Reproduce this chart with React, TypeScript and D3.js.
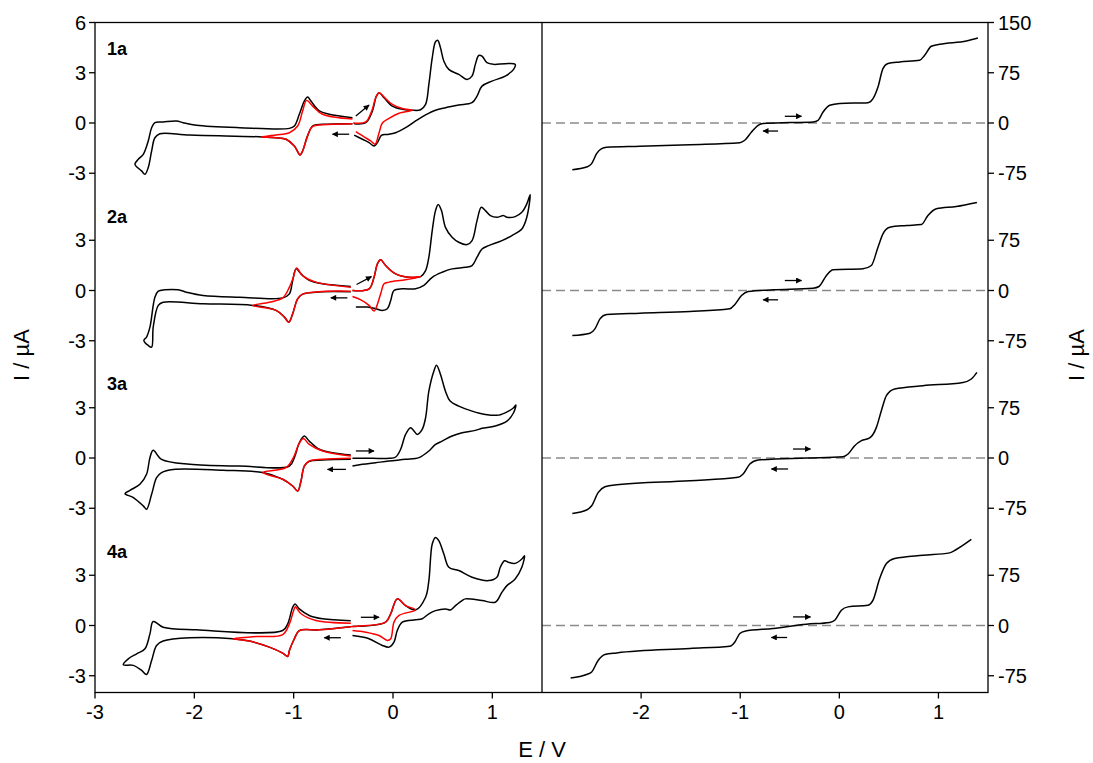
import React from 'react';
import * as d3 from 'd3';

type Pt = [number, number];

// ---------- layout (pixels) ----------
const PLOT_LEFT = 95;
const PLOT_MID = 542;
const PLOT_RIGHT = 988;
const PLOT_TOP = 22.5;
const PLOT_BOTTOM = 692.5;

// ---------- axes / ticks ----------
const eDomain: [number, number] = [-3, 1.5];
const cvDomain: [number, number] = [-34, 6];
const ssDomain: [number, number] = [-850, 150];

const panelLabels = ['1a', '2a', '3a', '4a'];
const cvOffsets = [0, -10, -20, -30];
const ssOffsets = [0, -250, -500, -750];
const cvTickValues = [[6, 3, 0, -3], [3, 0, -3], [3, 0, -3], [3, 0, -3]];
const ssTickValues = [[150, 75, 0, -75], [75, 0, -75], [75, 0, -75], [75, 0, -75]];
const leftXTicks = [-3, -2, -1, 0, 1];
const rightXTicks = [-2, -1, 0, 1];

// ---------- CV data (E / V, I / µA) ----------
const cv1aBlack1: Pt[] = [[-0.408,-0.04],[-0.709,-0.08],[-0.809,-0.18],[-0.86,-0.77],[-0.91,-1.67],[-0.936,-1.91],[-0.993,-1.37],[-1.077,-0.97],[-1.177,-0.88],[-1.31,-0.83],[-2.046,-0.72],[-2.347,-0.64],[-2.397,-0.88],[-2.43,-1.67],[-2.464,-2.66],[-2.497,-3.06],[-2.531,-2.86],[-2.598,-2.46],[-2.564,-2.17],[-2.514,-1.87],[-2.464,-1.07],[-2.43,-0.28],[-2.397,0.02],[-2.314,0.06],[-2.18,0.12],[-2.113,0.02],[-1.979,-0.14],[-1.545,-0.28],[-1.043,-0.32],[-0.993,-0.18],[-0.943,0.52],[-0.893,1.31],[-0.86,1.55],[-0.826,1.31],[-0.742,0.72],[-0.642,0.52],[-0.408,0.32]];
const cv1aBlack2: Pt[] = [[-0.391,-0.04],[-0.274,0.02],[-0.207,0.72],[-0.167,1.61],[-0.14,1.81],[-0.09,1.51],[-0.007,1.01],[0.094,0.82],[0.194,0.76],[0.278,0.79],[0.328,1.11],[0.361,2.3],[0.395,3.89],[0.428,4.85],[0.451,4.93],[0.478,4.49],[0.512,3.69],[0.562,3.2],[0.662,2.9],[0.745,2.6],[0.795,2.8],[0.829,3.5],[0.863,4.03],[0.896,3.99],[0.946,3.6],[1.013,3.5],[1.13,3.54],[1.23,3.5],[1.214,3.2],[1.13,2.8],[0.996,2.5],[0.896,2.2],[0.846,1.61],[0.795,1.21],[0.662,1.07],[0.529,0.91],[0.428,0.76],[0.328,0.48],[0.228,0.12],[0.127,-0.28],[0.027,-0.58],[-0.057,-0.68],[-0.114,-0.72],[-0.157,-1.17],[-0.19,-1.37],[-0.241,-1.17],[-0.308,-0.97],[-0.391,-0.72]];
const cv1aRed1: Pt[] = [[-0.408,0.24],[-0.709,0.52],[-0.809,1.01],[-0.87,1.35],[-0.91,0.72],[-0.96,-0.18],[-1.043,-0.58],[-1.177,-0.72],[-1.327,-0.83],[-1.177,-0.88],[-1.077,-0.97],[-0.993,-1.37],[-0.936,-1.91],[-0.91,-1.67],[-0.86,-0.77],[-0.809,-0.2],[-0.709,-0.1],[-0.408,-0.04]];
const cv1aRed2: Pt[] = [[-0.401,0.0],[-0.274,0.06],[-0.214,0.72],[-0.174,1.51],[-0.14,1.81],[-0.09,1.55],[-0.007,1.11],[0.094,0.86],[0.194,0.76],[0.06,0.58],[-0.04,0.28],[-0.107,0.0],[-0.14,-0.58],[-0.181,-1.27],[-0.224,-1.07],[-0.291,-0.83],[-0.374,-0.52]];

const cv2aBlack1: Pt[] = [[-0.425,-0.07],[-0.709,-0.07],[-0.91,-0.22],[-0.96,-0.5],[-1.01,-1.39],[-1.05,-1.89],[-1.093,-1.59],[-1.177,-1.19],[-1.411,-0.89],[-1.912,-0.79],[-2.314,-0.7],[-2.363,-0.89],[-2.414,-2.19],[-2.43,-3.38],[-2.464,-3.28],[-2.508,-2.98],[-2.481,-2.78],[-2.447,-2.19],[-2.397,-0.4],[-2.363,-0.04],[-2.297,0.04],[-2.163,0.04],[-2.08,-0.1],[-1.912,-0.3],[-1.545,-0.4],[-1.11,-0.44],[-1.043,-0.2],[-1.01,0.6],[-0.976,1.29],[-0.926,0.99],[-0.843,0.6],[-0.709,0.4],[-0.425,0.24]];
const cv2aBlack2: Pt[] = [[-0.408,0],[-0.241,0.1],[-0.191,0.79],[-0.157,1.59],[-0.124,1.83],[-0.074,1.49],[0.027,0.99],[0.16,0.79],[0.278,0.83],[0.328,1.19],[0.361,1.99],[0.395,3.58],[0.428,4.77],[0.455,5.13],[0.488,4.77],[0.528,3.77],[0.595,3.18],[0.662,2.88],[0.746,2.74],[0.796,2.98],[0.846,4.17],[0.889,4.97],[0.93,4.77],[0.98,4.47],[1.047,4.37],[1.113,4.47],[1.147,4.37],[1.23,4.41],[1.297,4.67],[1.347,5.17],[1.381,5.72],[1.347,4.37],[1.297,3.67],[1.197,3.28],[1.097,2.98],[0.963,2.68],[0.896,2.48],[0.846,1.99],[0.796,1.49],[0.729,1.39],[0.595,1.29],[0.495,1.09],[0.395,0.79],[0.311,0.3],[0.227,0.1],[0.094,0.1],[0.01,0],[-0.023,-0.6],[-0.057,-1.09],[-0.107,-1.19],[-0.174,-1.09],[-0.257,-0.99],[-0.374,-0.99]];
const cv2aRed1: Pt[] = [[-0.425,0.2],[-0.776,0.5],[-0.91,0.89],[-0.97,1.35],[-1.003,0.79],[-1.043,0.2],[-1.11,-0.44],[-1.244,-0.7],[-1.411,-0.89],[-1.177,-1.19],[-1.093,-1.59],[-1.05,-1.89],[-1.01,-1.39],[-0.96,-0.5],[-0.91,-0.22],[-0.709,-0.06],[-0.425,-0.04]];
const cv2aRed2: Pt[] = [[-0.408,0],[-0.241,0.1],[-0.191,0.79],[-0.157,1.59],[-0.124,1.83],[-0.074,1.49],[0.027,0.99],[0.16,0.79],[0.278,0.83],[0.127,0.64],[-0.04,0.5],[-0.09,0.4],[-0.124,-0.2],[-0.174,-1.09],[-0.191,-1.23],[-0.241,-0.89],[-0.324,-0.56],[-0.408,-0.36]];

const cv3aBlack1: Pt[] = [[-0.425,-0.08],[-0.709,-0.12],[-0.843,-0.2],[-0.893,-0.48],[-0.926,-1.37],[-0.96,-1.97],[-1.01,-1.67],[-1.11,-1.27],[-1.31,-0.87],[-1.712,-0.73],[-2.213,-0.68],[-2.33,-0.87],[-2.38,-1.17],[-2.43,-2.17],[-2.481,-3.06],[-2.514,-2.86],[-2.614,-2.36],[-2.698,-2.13],[-2.648,-1.93],[-2.548,-1.57],[-2.481,-0.97],[-2.447,0.02],[-2.414,0.46],[-2.33,-0.08],[-2.046,-0.38],[-1.545,-0.48],[-1.043,-0.48],[-0.993,0.02],[-0.943,0.91],[-0.893,1.31],[-0.843,1.01],[-0.742,0.52],[-0.609,0.32],[-0.425,0.18]];
const cv3aBlack2: Pt[] = [[-0.408,-0.02],[-0.207,-0.02],[-0.04,-0.02],[0.027,0.06],[0.077,0.52],[0.127,1.41],[0.177,1.81],[0.211,1.61],[0.244,1.41],[0.294,1.71],[0.328,2.4],[0.361,3.99],[0.411,5.18],[0.438,5.54],[0.478,4.99],[0.528,3.99],[0.575,3.4],[0.662,3.1],[0.796,2.8],[0.93,2.6],[1.063,2.56],[1.163,2.8],[1.214,3.0],[1.237,3.16],[1.214,2.7],[1.147,2.2],[1.03,1.91],[0.896,1.77],[0.829,1.65],[0.695,1.51],[0.595,1.31],[0.495,1.01],[0.428,0.81],[0.361,0.42],[0.261,0.02],[0.127,-0.08],[-0.04,-0.18],[-0.174,-0.28],[-0.308,-0.38],[-0.408,-0.48]];
const cv3aRed1: Pt[] = [[-0.425,0.12],[-0.709,0.42],[-0.843,0.81],[-0.903,1.17],[-0.949,0.81],[-1.003,0.02],[-1.077,-0.58],[-1.31,-0.87],[-1.11,-1.27],[-1.01,-1.67],[-0.96,-1.97],[-0.926,-1.37],[-0.893,-0.48],[-0.843,-0.18],[-0.709,-0.08],[-0.425,-0.02]];

const cv4aBlack1: Pt[] = [[-0.425,-0.08],[-0.742,-0.26],[-0.943,-0.3],[-0.993,-0.79],[-1.043,-1.49],[-1.06,-1.85],[-1.11,-1.65],[-1.244,-1.29],[-1.445,-0.93],[-1.612,-0.79],[-2.046,-0.73],[-2.314,-0.93],[-2.38,-1.19],[-2.43,-2.09],[-2.481,-2.92],[-2.531,-2.68],[-2.614,-2.38],[-2.715,-2.34],[-2.665,-1.99],[-2.581,-1.69],[-2.497,-1.39],[-2.447,-0.5],[-2.414,0.24],[-2.314,-0.1],[-1.979,-0.26],[-1.11,-0.3],[-1.06,0.1],[-1.01,1.09],[-0.986,1.29],[-0.943,0.99],[-0.843,0.6],[-0.709,0.4],[-0.425,0.28]];
const cv4aBlack2: Pt[] = [[-0.408,-0.06],[-0.074,0.2],[-0.023,0.7],[0.043,1.59],[0.127,1.19],[0.227,0.93],[0.328,1.69],[0.361,2.68],[0.395,4.87],[0.428,5.26],[0.461,5.07],[0.512,4.27],[0.562,3.48],[0.662,3.28],[0.796,2.88],[0.963,2.68],[1.046,2.88],[1.08,3.48],[1.123,3.87],[1.163,3.77],[1.23,3.71],[1.297,3.97],[1.324,4.17],[1.297,3.48],[1.23,2.78],[1.147,2.38],[1.097,1.99],[1.03,1.39],[0.896,1.49],[0.729,1.59],[0.695,1.49],[0.629,1.19],[0.579,0.93],[0.528,0.99],[0.428,0.89],[0.361,0.7],[0.294,0.4],[0.227,0.34],[0.094,0.2],[0.043,-0.3],[0.01,-0.99],[-0.04,-1.29],[-0.107,-1.19],[-0.241,-0.79],[-0.408,-0.6]];
const cv4aRed1: Pt[] = [[-0.425,0.14],[-0.776,0.3],[-0.926,0.7],[-0.96,0.95],[-0.983,1.12],[-1.0,0.9],[-1.043,0.1],[-1.11,-0.54],[-1.377,-0.66],[-1.612,-0.79],[-1.445,-0.93],[-1.244,-1.29],[-1.11,-1.65],[-1.06,-1.85],[-1.043,-1.49],[-0.993,-0.79],[-0.943,-0.3],[-0.742,-0.26],[-0.408,-0.06],[-0.074,0.2],[-0.023,0.7],[0.043,1.59],[0.127,1.19],[0.227,0.93],[0.06,0.6],[0.01,0.2],[-0.023,-0.79],[-0.057,-0.89],[-0.14,-0.6],[-0.274,-0.4],[-0.408,-0.3]];

// ---------- steady-state voltammograms (E / V, I / µA) ----------
const ss1a: Pt[] = [[-2.694,-69.6],[-2.55,-65.7],[-2.499,-60.6],[-2.449,-45.7],[-2.398,-38.2],[-2.348,-36.3],[-2.012,-34.8],[-1.508,-32.3],[-1.004,-29.3],[-0.954,-25.8],[-0.886,-13.4],[-0.819,-3.4],[-0.769,-0.9],[-0.5,0.6],[-0.265,1.6],[-0.215,4.0],[-0.164,16.4],[-0.097,26.4],[0.004,29],[0.289,30.4],[0.34,36.4],[0.39,53.7],[0.44,81.2],[0.491,88.7],[0.609,91.1],[0.81,93.6],[0.861,101.1],[0.928,114.5],[1.012,117.5],[1.281,122.4],[1.398,126.9]];
const ss2a: Pt[] = [[-2.694,-67.2],[-2.516,-63.7],[-2.466,-57.2],[-2.415,-42.3],[-2.348,-35.8],[-2.012,-33.8],[-1.508,-31.4],[-1.105,-27.4],[-1.054,-20.9],[-0.987,-7.5],[-0.92,-1.5],[-0.668,1.0],[-0.265,3.5],[-0.205,6],[-0.13,22.4],[-0.063,30.8],[0.239,32.3],[0.323,37.3],[0.39,64.7],[0.44,84.6],[0.508,94.5],[0.676,97],[0.828,98.5],[0.894,112],[0.979,122],[1.18,125.4],[1.388,131.4]];
const ss3a: Pt[] = [[-2.694,-82.7],[-2.55,-77.6],[-2.499,-71.2],[-2.432,-51.3],[-2.365,-42.8],[-2.247,-39.9],[-1.508,-33.9],[-1.021,-28.9],[-0.971,-23.9],[-0.903,-9],[-0.819,-3],[-0.332,0],[0.037,1.9],[0.088,6],[0.155,18.4],[0.223,25.8],[0.306,29.9],[0.374,45.7],[0.424,70.6],[0.475,93],[0.558,103],[0.844,107.9],[1.247,112.8],[1.332,117.9],[1.388,127.8]];
const ss4a: Pt[] = [[-2.711,-78.2],[-2.55,-73.1],[-2.499,-69.3],[-2.432,-51.8],[-2.365,-43.3],[-2.247,-40.9],[-1.508,-34.3],[-1.105,-30.9],[-1.054,-24.5],[-1.004,-11.9],[-0.954,-8.5],[-0.668,-4.5],[-0.332,1.9],[-0.097,4.5],[-0.046,7.9],[0.021,22.8],[0.088,27.8],[0.289,30.3],[0.34,37.8],[0.407,70.1],[0.475,92.5],[0.558,100],[0.844,104.9],[1.113,108.4],[1.18,113.4],[1.332,128.4]];

// ---------- scan-direction arrows ([from, to] in data units) ----------
const cvArrows: [Pt, Pt][][] = [
  [[[-0.374, 0.42], [-0.241, 1.07]], [[-0.441, -0.67], [-0.609, -0.67]]],
  [[[-0.367, 0.36], [-0.217, 0.83]], [[-0.459, -0.44], [-0.626, -0.44]]],
  [[[-0.374, 0.42], [-0.191, 0.42]], [[-0.474, -0.68], [-0.659, -0.68]]],
  [[[-0.324, 0.49], [-0.14, 0.49]], [[-0.525, -0.73], [-0.692, -0.73]]],
];
const ssArrows: [Pt, Pt][][] = [
  [[[-0.55, 10], [-0.382, 10]], [[-0.618, -12], [-0.769, -12]]],
  [[[-0.55, 14.9], [-0.382, 14.9]], [[-0.618, -13.9], [-0.769, -13.9]]],
  [[[-0.467, 13.4], [-0.291, 13.4]], [[-0.517, -16.4], [-0.685, -16.4]]],
  [[[-0.467, 12.8], [-0.291, 12.8]], [[-0.527, -17.9], [-0.685, -17.9]]],
];

const cvBlack: Pt[][][] = [[cv1aBlack1, cv1aBlack2], [cv2aBlack1, cv2aBlack2], [cv3aBlack1, cv3aBlack2], [cv4aBlack1, cv4aBlack2]];
const cvRed: Pt[][][] = [[cv1aRed1, cv1aRed2], [cv2aRed1, cv2aRed2], [cv3aRed1], [cv4aRed1]];
const ssCurves: Pt[][] = [ss1a, ss2a, ss3a, ss4a];

const FONT = "'Liberation Sans', Arial, Helvetica, sans-serif";

export default function App() {
  const xL = d3.scaleLinear().domain(eDomain).range([PLOT_LEFT, PLOT_MID]);
  const xR = d3.scaleLinear().domain(eDomain).range([PLOT_MID, PLOT_RIGHT]);
  const yL = d3.scaleLinear().domain(cvDomain).range([PLOT_BOTTOM, PLOT_TOP]);
  const yR = d3.scaleLinear().domain(ssDomain).range([PLOT_BOTTOM, PLOT_TOP]);

  const cvLine = (off: number) =>
    d3.line<Pt>().x((d) => xL(d[0])).y((d) => yL(d[1] + off)).curve(d3.curveCatmullRom.alpha(0.5));
  const ssLine = (off: number) =>
    d3.line<Pt>().x((d) => xR(d[0])).y((d) => yR(d[1] + off)).curve(d3.curveMonotoneX);

  const axisStroke = 1.3;

  return (
    <svg width={1093} height={763} style={{ display: 'block', position: 'absolute', left: 0, top: 0, background: '#fff' }}>
      <defs>
        <marker id="ah" viewBox="0 0 10 10" refX="9" refY="5" markerWidth="7" markerHeight="6"
          orient="auto" markerUnits="userSpaceOnUse">
          <path d="M0,0 L10,5 L0,10 z" fill="#000" />
        </marker>
      </defs>
      <rect x={0} y={0} width={1093} height={763} fill="#fff" />

      {/* dashed zero lines (right panel) */}
      {ssOffsets.map((off, i) => (
        <line key={'z' + i} x1={PLOT_MID} x2={PLOT_RIGHT} y1={yR(off)} y2={yR(off)}
          stroke="#8a8a8a" strokeWidth={1.5} strokeDasharray="9,5" />
      ))}

      {/* CV black curves */}
      {cvBlack.map((curves, i) =>
        curves.map((c, j) => (
          <path key={`b${i}-${j}`} d={cvLine(cvOffsets[i])(c) || ''} fill="none" stroke="#000" strokeWidth={1.5} strokeLinejoin="round" />
        ))
      )}
      {/* CV red curves */}
      {cvRed.map((curves, i) =>
        curves.map((c, j) => (
          <path key={`r${i}-${j}`} d={cvLine(cvOffsets[i])(c) || ''} fill="none" stroke="#ff0000" strokeWidth={1.5} strokeLinejoin="round" />
        ))
      )}
      {/* steady-state curves */}
      {ssCurves.map((c, i) => (
        <path key={`s${i}`} d={ssLine(ssOffsets[i])(c) || ''} fill="none" stroke="#000" strokeWidth={1.5} />
      ))}

      {/* arrows */}
      {cvArrows.map((arr, i) =>
        arr.map((a, j) => (
          <line key={`ca${i}-${j}`} x1={xL(a[0][0])} y1={yL(a[0][1] + cvOffsets[i])} x2={xL(a[1][0])} y2={yL(a[1][1] + cvOffsets[i])}
            stroke="#000" strokeWidth={1.3} markerEnd="url(#ah)" />
        ))
      )}
      {ssArrows.map((arr, i) =>
        arr.map((a, j) => (
          <line key={`sa${i}-${j}`} x1={xR(a[0][0])} y1={yR(a[0][1] + ssOffsets[i])} x2={xR(a[1][0])} y2={yR(a[1][1] + ssOffsets[i])}
            stroke="#000" strokeWidth={1.3} markerEnd="url(#ah)" />
        ))
      )}

      {/* frame */}
      <rect x={PLOT_LEFT} y={PLOT_TOP} width={PLOT_RIGHT - PLOT_LEFT} height={PLOT_BOTTOM - PLOT_TOP}
        fill="none" stroke="#000" strokeWidth={axisStroke} />
      <line x1={PLOT_MID} x2={PLOT_MID} y1={PLOT_TOP} y2={PLOT_BOTTOM} stroke="#000" strokeWidth={axisStroke} />

      {/* left y ticks */}
      {cvTickValues.map((vals, i) =>
        vals.map((v) => {
          const y = yL(v + cvOffsets[i]);
          return (
            <g key={`ly${i}-${v}`}>
              <line x1={PLOT_LEFT - 6} x2={PLOT_LEFT} y1={y} y2={y} stroke="#000" strokeWidth={axisStroke} />
              <text x={PLOT_LEFT - 9} y={y} dy="0.36em" textAnchor="end" fontFamily={FONT} fontSize={20} fill="#000">{String(v)}</text>
            </g>
          );
        })
      )}
      {/* right y ticks */}
      {ssTickValues.map((vals, i) =>
        vals.map((v) => {
          const y = yR(v + ssOffsets[i]);
          return (
            <g key={`ry${i}-${v}`}>
              <line x1={PLOT_RIGHT} x2={PLOT_RIGHT + 6} y1={y} y2={y} stroke="#000" strokeWidth={axisStroke} />
              <text x={PLOT_RIGHT + 10} y={y} dy="0.36em" textAnchor="start" fontFamily={FONT} fontSize={20} fill="#000">{String(v)}</text>
            </g>
          );
        })
      )}
      {/* bottom x ticks */}
      {leftXTicks.map((v) => (
        <g key={`lx${v}`}>
          <line x1={xL(v)} x2={xL(v)} y1={PLOT_BOTTOM} y2={PLOT_BOTTOM + 6} stroke="#000" strokeWidth={axisStroke} />
          <text x={xL(v)} y={PLOT_BOTTOM + 26} textAnchor="middle" fontFamily={FONT} fontSize={20} fill="#000">{String(v)}</text>
        </g>
      ))}
      {rightXTicks.map((v) => (
        <g key={`rx${v}`}>
          <line x1={xR(v)} x2={xR(v)} y1={PLOT_BOTTOM} y2={PLOT_BOTTOM + 6} stroke="#000" strokeWidth={axisStroke} />
          <text x={xR(v)} y={PLOT_BOTTOM + 26} textAnchor="middle" fontFamily={FONT} fontSize={20} fill="#000">{String(v)}</text>
        </g>
      ))}

      {/* panel labels */}
      {panelLabels.map((lab, i) => (
        <text key={lab} x={PLOT_LEFT + 12} y={yL(4.05 + cvOffsets[i])} fontFamily={FONT} fontSize={18} fontWeight="bold" fill="#000">{lab}</text>
      ))}

      {/* axis titles */}
      <text transform="translate(29,355) rotate(-90)" textAnchor="middle" fontFamily={FONT} fontSize={22} fill="#000">I / µA</text>
      <text transform="translate(1084,355) rotate(-90)" textAnchor="middle" fontFamily={FONT} fontSize={22} fill="#000">I / µA</text>
      <text x={PLOT_MID} y={757} textAnchor="middle" fontFamily={FONT} fontSize={22} fill="#000">E / V</text>
    </svg>
  );
}
